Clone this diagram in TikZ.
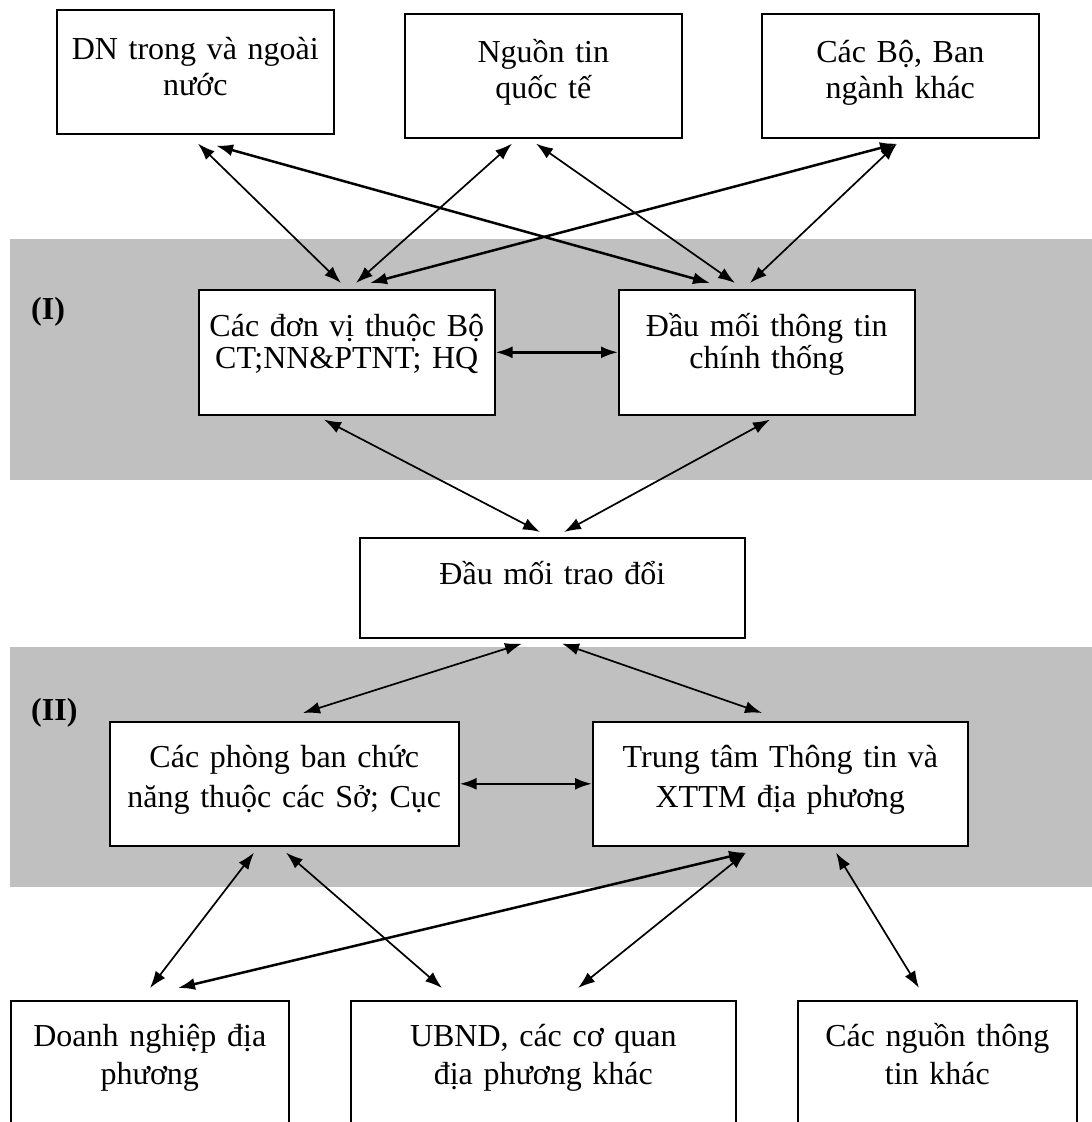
\documentclass[tikz,border=0pt]{standalone}
\usepackage{fontspec}
\setmainfont{Liberation Serif}
\usetikzlibrary{arrows.meta}
\definecolor{bandgray}{RGB}{192,192,192}

\begin{document}
\begin{tikzpicture}[x=1pt, y=-1pt,
                    my band/.style={fill=bandgray},
                    my box/.style={draw, line width=1.6pt, fill=white,
                      anchor=north west, inner sep=0pt},
                    my text/.style={anchor=base, yshift=-46pt, inner sep=0pt,
                      text width=340pt, align=center,
                      font=\fontsize{32}{36}\selectfont},
                    my label/.style={anchor=west, inner sep=0pt,
                      font=\fontsize{32}{36}\selectfont\bfseries},
                    my arrow/.style={
                      {Latex[length=17pt, width=12pt]}-{Latex[length=17pt, width=12pt]},
                      line width=1.7pt},
                    my thick arrow/.style={my arrow, line width=2.5pt}]

\clip (0,0) rectangle (1092,1122);

% the two shaded levels
\fill[my band] (10,239) rectangle (1092,480);
\fill[my band] (10,647) rectangle (1092,887);
\node[my label] (lvlI)  at (31,312) {(I)};
\node[my label] (lvlII) at (31,713) {(II)};

% top row
\node[my box, minimum width=277pt, minimum height=124pt,
      label={[my text, yshift=-4pt]north:{DN trong và ngoài\\nước}}] (dn) at (56,9) {};
\node[my box, minimum width=277pt, minimum height=124pt,
      label={[my text, yshift=-3pt]north:{Nguồn tin\\quốc tế}}] (nguon) at (404,13) {};
\node[my box, minimum width=277pt, minimum height=124pt,
      label={[my text, yshift=-3pt]north:{Các Bộ, Ban\\ngành khác}}] (bo) at (761,13) {};

% level (I)
\node[my box, minimum width=296pt, minimum height=125pt,
      label={[my text, yshift=-1pt]north:{Các đơn vị thuộc Bộ\\[-4pt]CT;NN\&PTNT; HQ}}] (donvi) at (198,289) {};
\node[my box, minimum width=296pt, minimum height=125pt,
      label={[my text, yshift=-1pt]north:{Đầu mối thông tin\\[-4pt]chính thống}}] (daumoi) at (618,289) {};

\node[my box, minimum width=385pt, minimum height=100pt,
      label={[my text, yshift=-1pt]north:{Đầu mối trao đổi}}] (traodoi) at (359,537) {};

% level (II)
\node[my box, minimum width=349pt, minimum height=124pt,
      label={[my text]north:{Các phòng ban chức\\[4pt]năng thuộc các Sở; Cục}}] (phongban) at (109,721) {};
\node[my box, minimum width=375pt, minimum height=124pt,
      label={[my text]north:{Trung tâm Thông tin và\\[4pt]XTTM địa phương}}] (trungtam) at (592,721) {};

% bottom row, cut by the page edge
\node[my box, minimum width=278pt, minimum height=140pt,
      label={[my text]north:{Doanh nghiệp địa\\[2pt]phương}}] (dnlocal) at (10,1000) {};
\node[my box, minimum width=385pt, minimum height=140pt,
      label={[my text]north:{UBND, các cơ quan\\[2pt]địa phương khác}}] (ubnd) at (350,1000) {};
\node[my box, minimum width=279pt, minimum height=140pt,
      label={[my text]north:{Các nguồn thông\\[2pt]tin khác}}] (khac) at (797,1000) {};

\draw[my arrow] ([shift={(142,9)}]dn.south west) -- ([shift={(143,-6)}]donvi.north west);
\draw[my arrow] ([shift={(108,5)}]nguon.south west) -- ([shift={(158,-6)}]donvi.north west);
\draw[my thick arrow] ([shift={(136,5)}]bo.south west) -- ([shift={(172,-6)}]donvi.north west);
\draw[my thick arrow] ([shift={(160,11)}]dn.south west) -- ([shift={(92,-6)}]daumoi.north west);
\draw[my arrow] ([shift={(132,5)}]nguon.south west) -- ([shift={(117,-6)}]daumoi.north west);
\draw[my arrow] ([shift={(136,5)}]bo.south west) -- ([shift={(132,-6)}]daumoi.north west);

\draw[my thick arrow] (donvi.east) -- (daumoi.west);
\draw[my arrow] ([shift={(126,4)}]donvi.south west) -- ([shift={(181,-5)}]traodoi.north west);
\draw[my arrow] ([shift={(152,4)}]daumoi.south west) -- ([shift={(205,-5)}]traodoi.north west);

\draw[my arrow] ([shift={(163,5)}]traodoi.south west) -- ([shift={(194,-8)}]phongban.north west);
\draw[my arrow] ([shift={(203,5)}]traodoi.south west) -- ([shift={(170,-8)}]trungtam.north west);
\draw[my thick arrow] (phongban.east) -- (trungtam.west);

\draw[my arrow] ([shift={(145,6)}]phongban.south west) -- ([shift={(140,-12)}]dnlocal.north west);
\draw[my arrow] ([shift={(177,6)}]phongban.south west) -- ([shift={(92,-12)}]ubnd.north west);
\draw[my thick arrow] ([shift={(154,6)}]trungtam.south west) -- ([shift={(168,-12)}]dnlocal.north west);
\draw[my arrow] ([shift={(154,6)}]trungtam.south west) -- ([shift={(228,-12)}]ubnd.north west);
\draw[my arrow] ([shift={(244,6)}]trungtam.south west) -- ([shift={(122,-12)}]khac.north west);
\end{tikzpicture}
\end{document}
